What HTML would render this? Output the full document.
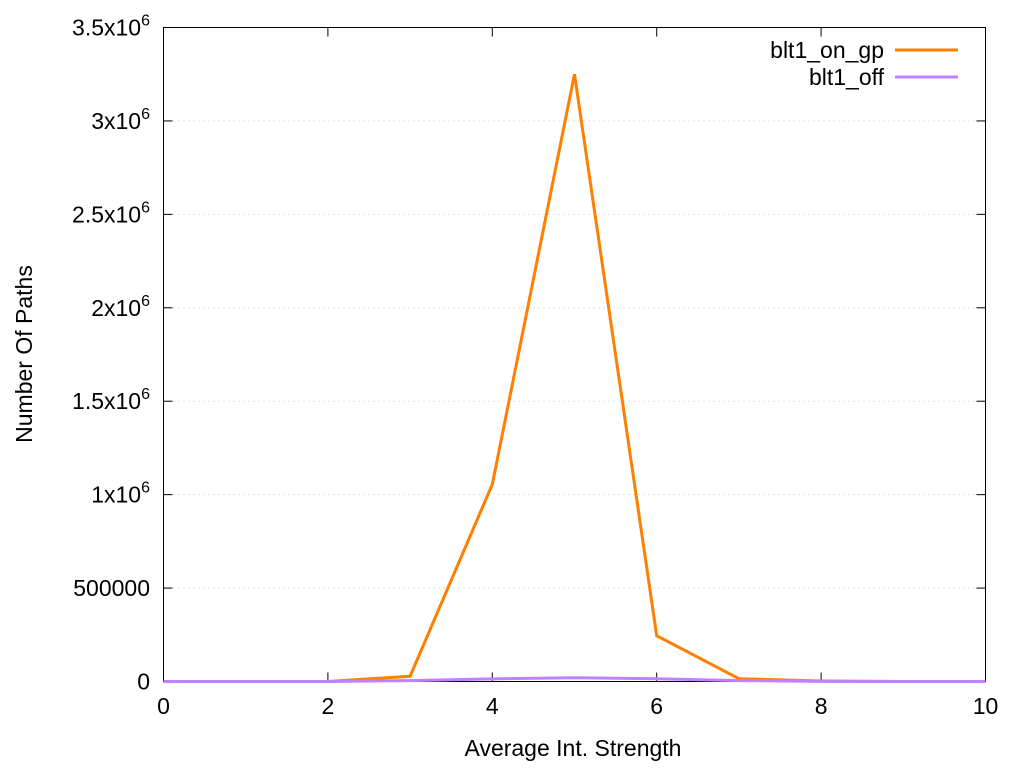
<!DOCTYPE html>
<html><head><meta charset="utf-8"><style>
body{margin:0;background:#fff;}
svg{display:block;font-family:"Liberation Sans",Arial,sans-serif;}
</style></head><body>
<svg id="chart" width="1024" height="768">
<g id="grid"></g><g id="axes"></g><g id="series"></g>
<text x="573" y="756" font-size="23" text-anchor="middle">Average Int. Strength</text>
<text transform="translate(32,354) rotate(-90)" font-size="23" text-anchor="middle">Number Of Paths</text>
<g>
<text x="884" y="58" font-size="23" text-anchor="end">blt1_on_gp</text>
<line x1="895" y1="50" x2="958" y2="50" stroke="#ff7f00" stroke-width="3"/>
<text x="884" y="85" font-size="23" text-anchor="end">blt1_off</text>
<line x1="895" y1="77" x2="958" y2="77" stroke="#c080ff" stroke-width="3"/>
</g>
</svg>
<script>
const xValues=[0,1,2,3,4,5,6,7,8,9,10];
const onGp=[0,0,0,28000,1055000,3250000,245000,15000,3000,0,0];
const off=[0,0,0,5000,14000,20000,15000,5000,1000,0,0];
const xTicks=[0,2,4,6,8,10];
const yTicks=[0,500000,1000000,1500000,2000000,2500000,3000000,3500000];
const yTickLabels=["0","500000","1x10^6","1.5x10^6","2x10^6","2.5x10^6","3x10^6","3.5x10^6"];
const L=163.5,R=985.5,T=27.5,B=681.5;
const sx=v=>L+(v-0)/(10-0)*(R-L);
const sy=v=>B-v/3500000*(B-T);
const NS="http://www.w3.org/2000/svg";
function mk(tag,attrs,parent){const e=document.createElementNS(NS,tag);for(const k in attrs)e.setAttribute(k,attrs[k]);parent.appendChild(e);return e;}
const grid=document.getElementById('grid'),axes=document.getElementById('axes'),ser=document.getElementById('series');
yTicks.forEach((v,i)=>{
  const y=sy(v);
  if(i>0&&i<yTicks.length-1){const g=mk('line',{x1:L,x2:R,y1:y,y2:y,stroke:'#c8c8c8','stroke-width':1,'stroke-dasharray':'1,4'},grid);
  
  }
  const t=mk('line',{x1:L,x2:L+9,y1:y,y2:y,stroke:'#000'},axes);
  
  
  const t2=mk('line',{x1:R,x2:R-9,y1:y,y2:y,stroke:'#000'},axes);
  
  
  const lab=yTickLabels[i];
  const tx=mk('text',{x:150,y:y+8,'font-size':23,'text-anchor':'end'},axes);
  
  
  if(lab.includes('^')){const p=lab.split('^');tx.textContent=p[0];const s=mk('tspan',{dy:-10,'font-size':16},tx);s.textContent=p[1];}
  else tx.textContent=lab;
});
xTicks.forEach(v=>{
  const x=sx(v);
  const t=mk('line',{x1:x,x2:x,y1:B,y2:B-9,stroke:'#000'},axes);
  
  
  const t2=mk('line',{x1:x,x2:x,y1:T,y2:T+9,stroke:'#000'},axes);
  
  
  const tx=mk('text',{x:x,y:714,'font-size':23,'text-anchor':'middle'},axes);
  
  
  tx.textContent=v;
});
const frame=mk('rect',{x:L,y:T,width:R-L,height:B-T,fill:'none',stroke:'#000','stroke-width':1},axes);


function line(vals,color,name){
  const p=mk('polyline',{points:vals.map((v,i)=>sx(xValues[i])+','+sy(v)).join(' '),fill:'none',stroke:color,'stroke-width':3,'stroke-linejoin':'miter'},ser);
  
  
}
line(onGp,'#ff7f00','series-blt1-on-gp');
line(off,'#c080ff','series-blt1-off');
</script>
</body></html>
